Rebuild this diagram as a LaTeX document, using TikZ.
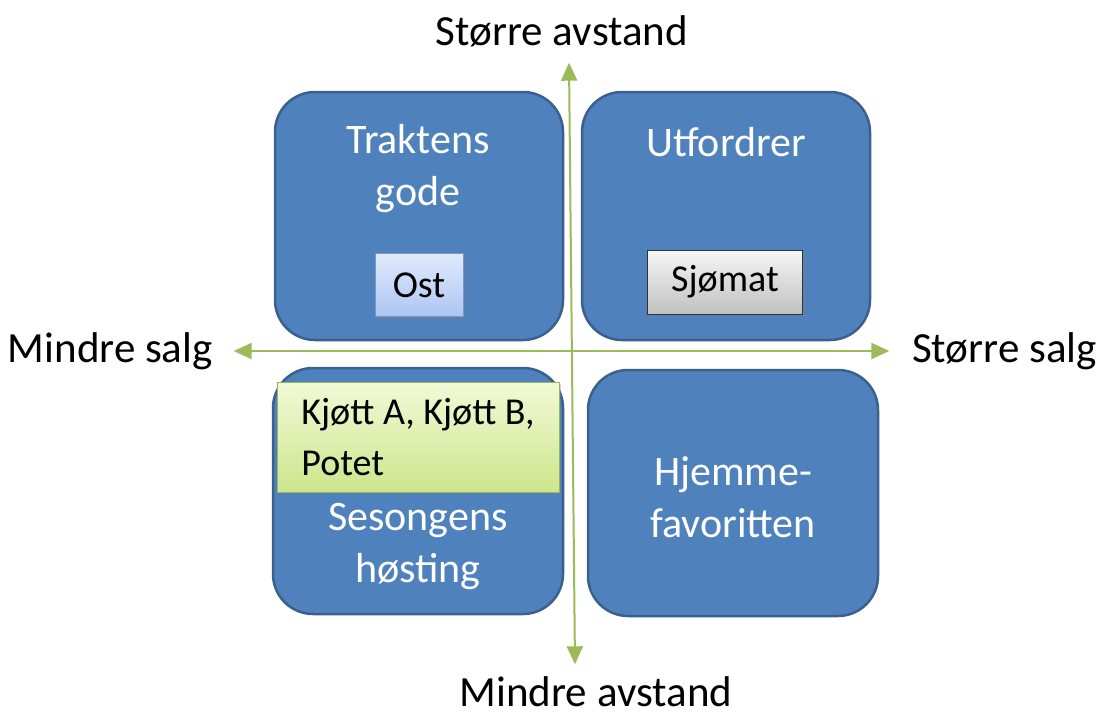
\documentclass[tikz,border=0pt]{standalone}
\usepackage{fontspec}
\setmainfont{Carlito}
\usetikzlibrary{arrows.meta,shadows,positioning}

\begin{document}
\begin{tikzpicture}[x=1pt,y=-1pt]
\definecolor{Boxblue}{RGB}{79,129,189}
\definecolor{Boxedge}{RGB}{58,96,143}
\definecolor{Axisgreen}{RGB}{155,187,89}
\tikzstyle{quad} = [draw=Boxedge, line width=2.5pt, fill=Boxblue, rounded corners=40pt, inner sep=0, minimum width=288pt, minimum height=248pt]
\tikzstyle{quadtext} = [text=white, align=center, font=\fontsize{42}{52}\selectfont]
\tikzstyle{axis} = [draw=Axisgreen, line width=2pt, {Triangle[length=18pt,width=16pt]}-{Triangle[length=18pt,width=16pt]}]
\tikzstyle{axislabel} = [font=\fontsize{43}{52}\selectfont]
\tikzstyle{tag} = [line width=1pt, inner sep=0, font=\fontsize{38}{51}\selectfont, drop shadow={opacity=0.35, shadow xshift=2pt, shadow yshift=-2pt}]

\useasboundingbox (0,0) rectangle (1096,716);

% the four quadrants
\node[quad] (tl) at (419,216) {};
\node[quad] (tr) at (726,216) {};
\node[quad, minimum width=290pt, minimum height=246pt] (bl) at (418,491) {};
\node[quad, minimum width=290pt, minimum height=246pt] (br) at (733,493) {};

\node[quadtext] (tltext) at (418,169) {Traktens\\gode};
\node[quadtext] (trtext) at (726,142) {Utfordrer};
\node[quadtext] (bltext) at (418,546) {Sesongens\\høsting};
\node[quadtext] (brtext) at (733,497) {Hjemme-\\favoritten};

% axes
\node[inner sep=0] (up) at (569,62) {};
\node[inner sep=0] (down) at (575,665) {};
\node[inner sep=0] (left) at (233,351) {};
\node[inner sep=0] (right) at (890,351) {};

\draw[axis] (down) -- (up);
\draw[axis] (left) -- (right);

\node[axislabel] (uplabel) at (562,31) {Større avstand};
\node[axislabel] (downlabel) at (596,692) {Mindre avstand};
\node[axislabel, left=16pt of left] (leftlabel) {Mindre salg};
\node[axislabel, right=18pt of right] (rightlabel) {Større salg};

% products
\node[tag, draw={rgb,255:red,125;green,150;blue,195}, top color={rgb,255:red,225;green,234;blue,252}, bottom color={rgb,255:red,172;green,197;blue,242}, minimum width=88pt, minimum height=63pt] (ost) at (419,285) {Ost};
\node[tag, draw={rgb,255:red,50;green,50;blue,50}, top color={rgb,255:red,246;green,246;blue,246}, bottom color={rgb,255:red,192;green,192;blue,192}, minimum width=155pt, minimum height=64pt] (sjomat) at (725,282) {Sjømat};
\node[tag, draw={rgb,255:red,150;green,180;blue,100}, top color={rgb,255:red,242;green,249;blue,214}, bottom color={rgb,255:red,204;green,230;blue,140}, minimum width=282pt, minimum height=110pt, align=left] (kjott) at (418,437) {Kjøtt A, Kjøtt B,\\Potet};

\end{tikzpicture}
\end{document}
